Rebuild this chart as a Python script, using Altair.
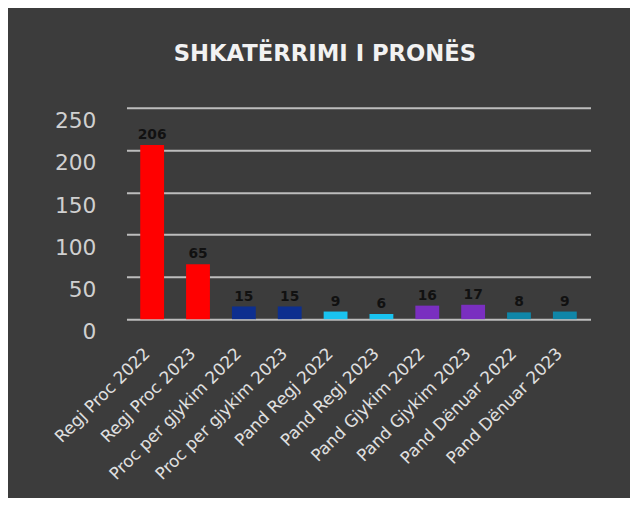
import altair as alt
import pandas as pd

categories = ["Regj Proc 2022", "Regj Proc 2023", "Proc per gjykim 2022", "Proc per gjykim 2023",
              "Pand Regj 2022", "Pand Regj 2023", "Pand Gjykim 2022", "Pand Gjykim 2023",
              "Pand Dënuar 2022", "Pand Dënuar 2023"]
values = [206, 65, 15, 15, 9, 6, 16, 17, 8, 9]
colors = ["#ff0000", "#ff0000", "#0d2f8f", "#0d2f8f", "#19c3f0", "#19c3f0",
          "#7a2fc0", "#7a2fc0", "#0f86a8", "#0f86a8"]
y_ticks = [0, 50, 100, 150, 200, 250]

df = pd.DataFrame({"cat": categories, "value": values, "color": colors})

FONT = "DejaVu Sans"

base = alt.Chart(df).encode(
    x=alt.X("cat:N", sort=categories,
            scale=alt.Scale(paddingInner=0.48, paddingOuter=0.3),
            axis=alt.Axis(title=None, labelAngle=-45, labelColor="#e0e0e0", labelFontSize=17,
                          labelFont=FONT, domain=False, ticks=False, labelPadding=32,
                          labelOffset=-5, labelAlign="right", labelBaseline="middle",
                          labelLimit=0, labelOverlap=False)),
    y=alt.Y("value:Q", scale=alt.Scale(domain=[0, 250]),
            axis=alt.Axis(values=y_ticks, title=None, grid=True, gridColor="#bdbdbd", gridWidth=2,
                          domain=False, ticks=False, labelColor="#d0d0d0", labelFontSize=22,
                          labelFont=FONT, labelPadding=31, labelOffset=13)),
)

bars = base.mark_bar().encode(color=alt.Color("color:N", scale=None))
text = base.mark_text(dy=-10, fontWeight="bold", fontSize=14, font=FONT, color="#111111").encode(
    text="value:Q")

chart = (bars + text).properties(
    width=470, height=214,
    title=alt.TitleParams("SHKATËRRIMI I PRONËS", color="#f2f2f2", fontSize=23, font=FONT,
                          fontWeight="bold", anchor="middle", frame="group", offset=42, dx=-34),
    background="#3c3c3c",
    padding={"left": 120, "top": 98, "right": 40, "bottom": 178},
    autosize="none",
).configure_view(stroke=None)

chart.save("out.html", embed_options={"renderer": "svg", "actions": False})
